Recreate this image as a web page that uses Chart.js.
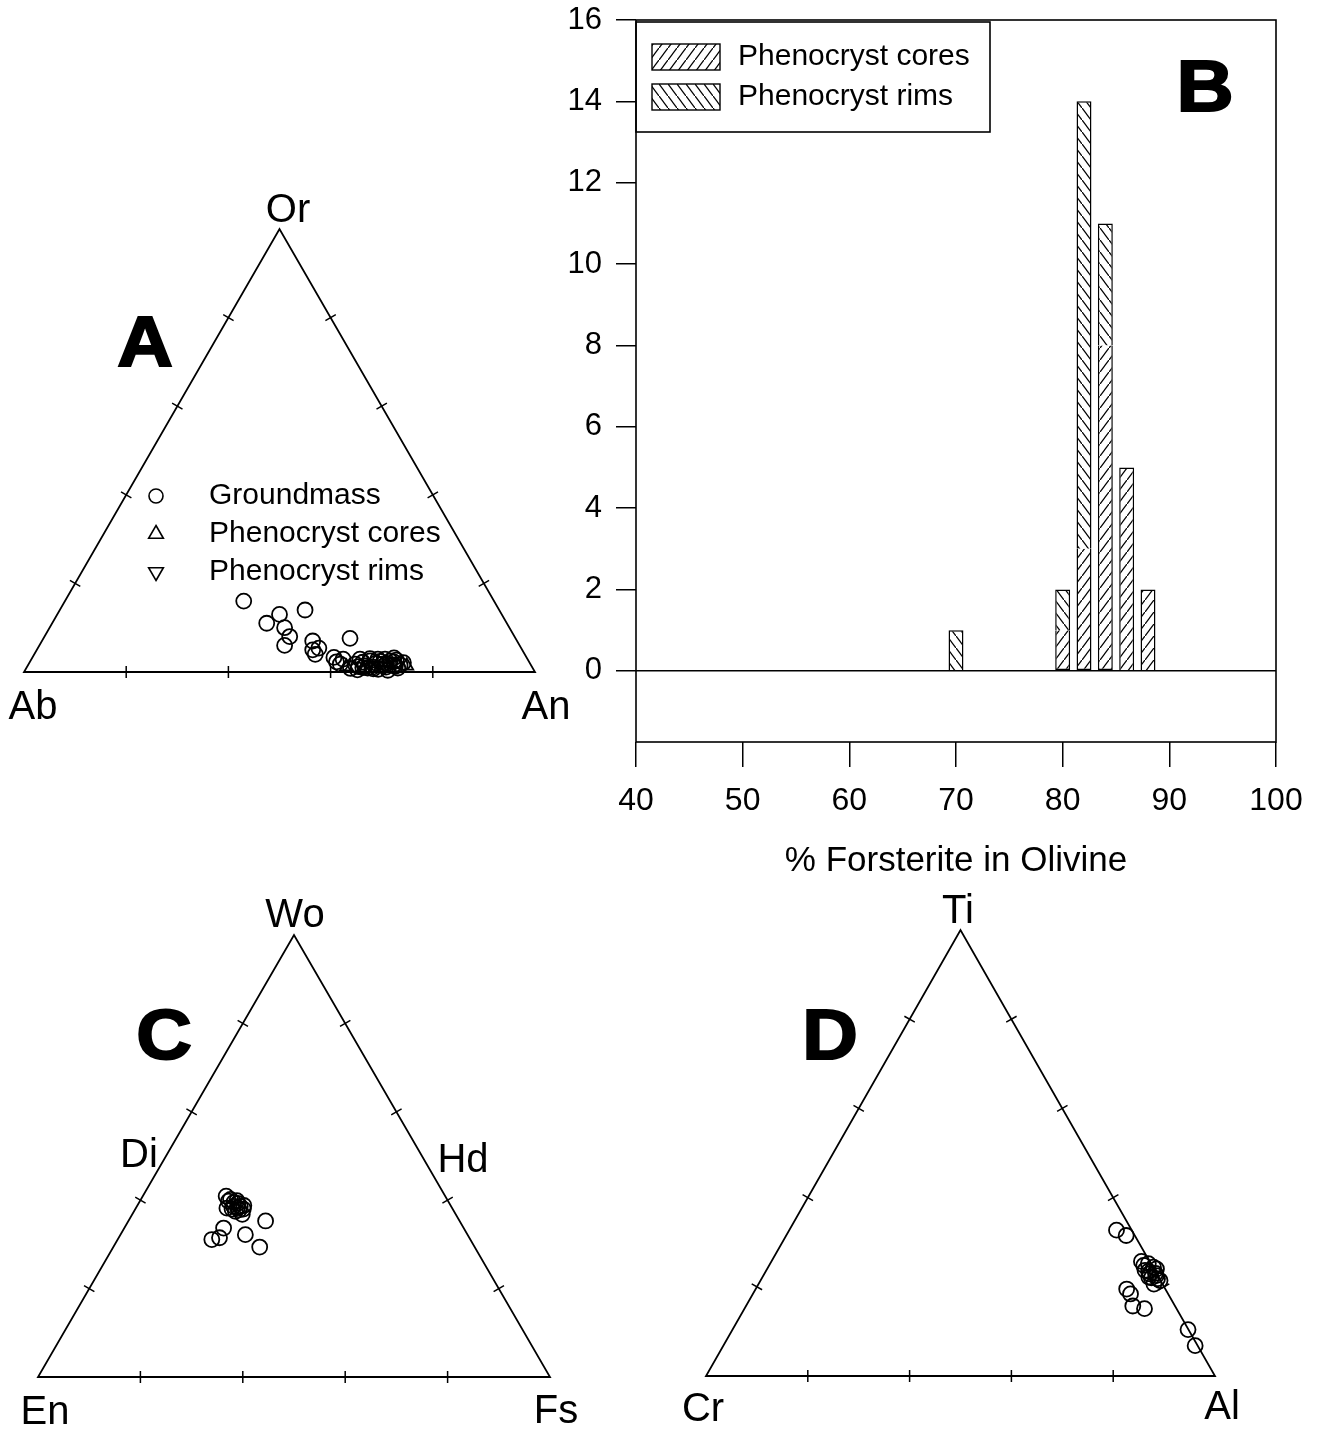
<!DOCTYPE html>
<html>
<head>
<meta charset="utf-8">
<script src="https://cdn.jsdelivr.net/npm/chart.js@4.4.1/dist/chart.umd.min.js"></script>
<style>
  body { margin: 0; background: #fff; width: 1320px; height: 1430px; position: relative; overflow: hidden; }
  canvas { position: absolute; }
</style>
</head>
<body>
<canvas id="panelA" width="590" height="560" style="left:0;top:180px"></canvas>
<canvas id="panelB" width="760" height="882" style="left:560px;top:0"></canvas>
<canvas id="panelC" width="600" height="550" style="left:0;top:880px"></canvas>
<canvas id="panelD" width="600" height="550" style="left:660px;top:880px"></canvas>
<script>
// A - feldspar, mol % (Or = top, An = right, Ab = rest)
const gmOr = [16, 11, 13, 14, 10, 8, 6, 7, 5, 5.4, 4, 7.6, 3.3, 2.3, 2.9, 1.8,
  1.8, 2.9, 1.4, 2.5, 1.1, 2.9, 1.8, 1.1, 2.5, 1.6, 0.9, 2, 0.9, 2.9, 1.6, 0.5, 0.6, 0.4, 3.2, 2.2,
  1.2, 2.4, 0.7, 1.9, 2.7, 1.3, 0.8, 2.1, 1.5, 3.0, 1.0, 2.3];
const gmAn = [35, 42, 43.5, 48, 46, 48, 48, 53, 54, 55, 55, 60, 59, 60, 61, 61,
  63.9, 64.3, 66, 66.5, 67.7, 67.8, 69.2, 70.3, 70.4, 71.6, 72.7, 67.9, 66.8, 69.2, 72.8, 65, 69, 71, 70.8, 65.2,
  64.8, 68.5, 68, 70, 71.5, 72, 63.5, 73.2, 69.8, 66.2, 65.8, 71.2];
const coreOr = [1.4, 0.8, 0.9, 1.2];
const coreAn = [74.2, 66, 71, 62.5];
const rimOr = [1.5, 1.3];
const rimAn = [67.5, 70];

// B - olivine histogram
const foBins = [70, 80, 82, 84, 86, 88];
const foCores = [0, 1, 3, 8, 5, 2];
const foRims = [1, 1, 11, 3, 0, 0];
const foTicks = [40, 50, 60, 70, 80, 90, 100];
const countTicks = [0, 2, 4, 6, 8, 10, 12, 14, 16];

// C - pyroxene (Wo = top, Fs = right, En = rest)
const pxWo = [40.9, 39.8, 38.6, 38.3, 38.6, 36.8, 38, 35.3, 33.7, 32.2, 31.1, 31.5, 29.4, 40.2, 39.3, 37.5, 38,
  39.5, 38.8, 37.8, 39.9, 38.2];
const pxFs = [16.3, 17.3, 18.9, 19.8, 20.2, 21.5, 18.9, 26.8, 19.4, 24.4, 18.4, 19.7, 28.6, 17.5, 19.4, 19.8, 21.1,
  18.5, 20.8, 20.4, 18.9, 17.8];

// D - spinel (Ti = top, Al = right, Cr = rest)
const spTi = [32.7, 31.5, 25.7, 25.2, 24.4, 23.7, 22.9, 22.5, 21.4, 20.6, 19.5, 18.4, 15.7, 15.1, 10.4, 6.8, 24, 23, 22, 23.5, 21.8,
  24.8, 22.2];
const spAl = [64.3, 66.8, 72.7, 74.3, 75.7, 74.4, 75.7, 77.2, 78.5, 77.7, 72.9, 74.2, 76, 78.6, 89.5, 92.7, 76.5, 76.8, 76.5, 75.2, 77.8,
  73.6, 75.9];

const triTicks = [20, 40, 60, 80];

Chart.defaults.font.family = '"Liberation Sans", Arial, sans-serif';
Chart.defaults.color = '#000';
const FONT = '"Liberation Sans", Arial, sans-serif';
const SQ = Math.sqrt(3) / 2;

function tern(top, right) {
  return { x: (right + top / 2) / 100, y: top / 100 * SQ };
}
function pts(topArr, rightArr) {
  return topArr.map((t, i) => tern(t, rightArr[i]));
}

function text(ctx, s, x, y, size, bold, align) {
  ctx.font = (bold ? 'bold ' : '') + size + 'px ' + FONT;
  ctx.textAlign = align || 'center';
  ctx.textBaseline = 'middle';
  ctx.fillStyle = '#000';
  if (bold) {
    // heavy panel letters, a bit wider than plain bold
    ctx.save();
    ctx.translate(x, y);
    ctx.scale(1.1, 1);
    ctx.fillText(s, 0, 0);
    ctx.lineWidth = 2;
    ctx.strokeStyle = '#000';
    ctx.strokeText(s, 0, 0);
    ctx.restore();
  } else {
    ctx.fillText(s, x, y);
  }
}

function marker(ctx, style, x, y, r) {
  ctx.beginPath();
  if (style === 'circle') {
    ctx.arc(x, y, r, 0, Math.PI * 2);
  } else {
    const s = style === 'up' ? 1 : -1;
    ctx.moveTo(x, y - s * r);
    ctx.lineTo(x + r * 0.866, y + s * r * 0.5);
    ctx.lineTo(x - r * 0.866, y + s * r * 0.5);
    ctx.closePath();
  }
  ctx.stroke();
}

// triangle outline, edge ticks, labels and legend
const frame = {
  id: 'frame',
  beforeDatasetsDraw(chart) {
    const { ctx, scales: { x, y } } = chart;
    const c = [[0, 0], [1, 0], [0.5, SQ]].map(p => [x.getPixelForValue(p[0]), y.getPixelForValue(p[1])]);
    ctx.save();
    ctx.strokeStyle = '#000';
    ctx.lineWidth = 1.8;
    ctx.beginPath();
    ctx.moveTo(c[0][0], c[0][1]);
    ctx.lineTo(c[1][0], c[1][1]);
    ctx.lineTo(c[2][0], c[2][1]);
    ctx.closePath();
    ctx.stroke();
    ctx.lineWidth = 1.5;
    ctx.beginPath();
    [[0, 1], [1, 2], [2, 0]].forEach(([a, b]) => {
      const dx = c[b][0] - c[a][0], dy = c[b][1] - c[a][1];
      const len = Math.hypot(dx, dy), nx = -dy / len, ny = dx / len;
      triTicks.forEach(f => {
        const px = c[a][0] + dx * f / 100, py = c[a][1] + dy * f / 100;
        ctx.moveTo(px - nx * 6, py - ny * 6);
        ctx.lineTo(px + nx * 6, py + ny * 6);
      });
    });
    ctx.stroke();
    ctx.restore();
  },
  afterDraw(chart, args, opts) {
    const ctx = chart.ctx;
    ctx.save();
    (opts.labels || []).forEach(l => text(ctx, l[0], l[1], l[2], l[3], l[4]));
    ctx.strokeStyle = '#000';
    ctx.lineWidth = 1.6;
    (opts.legend || []).forEach(l => {
      marker(ctx, l[0], l[2], l[3], l[0] === 'circle' ? 7 : 8.5);
      text(ctx, l[1], l[4], l[3], 30, false, 'left');
    });
    ctx.restore();
  }
};

function symbolSet(data, style, rot) {
  return {
    data, pointStyle: style, rotation: rot || 0,
    pointRadius: 7.5, pointBorderWidth: 1.8,
    pointBorderColor: '#000', pointBackgroundColor: 'rgba(0,0,0,0)',
    clip: false
  };
}

function ternary(id, pad, sets, frameOpts) {
  return new Chart(document.getElementById(id), {
    type: 'scatter',
    data: { datasets: sets },
    options: {
      responsive: false, animation: false, events: [],
      layout: { padding: pad },
      plugins: { legend: { display: false }, tooltip: { enabled: false }, frame: frameOpts },
      scales: {
        x: { display: false, min: 0, max: 1 },
        y: { display: false, min: 0, max: SQ }
      }
    },
    plugins: [frame]
  });
}

ternary('panelA', { left: 24, right: 55, top: 49, bottom: 68 }, [
  symbolSet(pts(gmOr, gmAn), 'circle'),
  symbolSet(pts(coreOr, coreAn), 'triangle'),
  symbolSet(pts(rimOr, rimAn), 'triangle', 180)
], {
  labels: [['Or', 288, 31, 40], ['Ab', 33, 528, 40], ['An', 546, 528, 40], ['A', 145, 167, 70, true]],
  legend: [['circle', 'Groundmass', 156, 316, 209], ['up', 'Phenocryst cores', 156, 354, 209], ['down', 'Phenocryst rims', 156, 392, 209]]
});

ternary('panelC', { left: 38, right: 50, top: 55, bottom: 53 }, [
  symbolSet(pts(pxWo, pxFs), 'circle')
], {
  labels: [['Wo', 295, 36, 40], ['Di', 139, 276, 40], ['Hd', 463, 281, 40], ['En', 45, 533, 40], ['Fs', 556, 532, 40], ['C', 164, 160, 70, true]]
});

ternary('panelD', { left: 46, right: 45, top: 50, bottom: 54 }, [
  symbolSet(pts(spTi, spAl), 'circle')
], {
  labels: [['Ti', 298, 32, 40], ['Cr', 43, 530, 40], ['Al', 562, 528, 40], ['D', 170, 160, 70, true]]
});

// hatch patterns for the histogram
function hatch(dir) {
  const w = 9, h = 12;
  const c = document.createElement('canvas');
  c.width = w; c.height = h;
  const g = c.getContext('2d');
  g.fillStyle = '#fff';
  g.fillRect(0, 0, w, h);
  g.strokeStyle = '#000';
  g.lineWidth = 1.3;
  g.beginPath();
  if (dir === '/') {
    g.moveTo(-w, 2 * h); g.lineTo(2 * w, -h);
  } else {
    g.moveTo(-w, -h); g.lineTo(2 * w, 2 * h);
  }
  g.stroke();
  return g.createPattern(c, 'repeat');
}
const coreFill = hatch('/');
const rimFill = hatch('\\');

const boxB = {
  id: 'boxB',
  afterDraw(chart) {
    const { ctx, chartArea: a } = chart;
    ctx.save();
    ctx.strokeStyle = '#000';
    ctx.lineWidth = 1.6;
    ctx.strokeRect(a.left, a.top, a.right - a.left, a.bottom - a.top);
    // legend
    ctx.strokeRect(a.left, a.top + 2, 354, 110);
    chart.data.datasets.forEach((d, i) => {
      const y = a.top + 24 + i * 40;
      ctx.fillStyle = d.backgroundColor;
      ctx.fillRect(a.left + 16, y, 68, 26);
      ctx.lineWidth = 1.4;
      ctx.strokeRect(a.left + 16, y, 68, 26);
      text(ctx, d.label, a.left + 102, y + 13, 30, false, 'left');
    });
    text(ctx, 'B', 645, 91, 72, true);
    ctx.restore();
  }
};

new Chart(document.getElementById('panelB'), {
  type: 'bar',
  data: {
    datasets: [
      {
        label: 'Phenocryst cores',
        data: foBins.map((x, i) => ({ x, y: foCores[i] })),
        backgroundColor: coreFill, borderColor: '#000', borderWidth: 1.5,
        borderSkipped: c => foRims[c.dataIndex] > 0 ? 'end' : 'start',
        barPercentage: 0.7, categoryPercentage: 1
      },
      {
        label: 'Phenocryst rims',
        data: foBins.map((x, i) => ({ x, y: foRims[i] })),
        backgroundColor: rimFill, borderColor: '#000', borderWidth: 1.5,
        borderSkipped: 'start',
        barPercentage: 0.7, categoryPercentage: 1
      }
    ]
  },
  options: {
    responsive: false, animation: false, events: [],
    layout: { padding: { top: 20, right: 44, left: 0, bottom: 0 } },
    plugins: { legend: { display: false }, tooltip: { enabled: false } },
    scales: {
      x: {
        type: 'linear', min: 40, max: 100, offset: false, stacked: true,
        afterBuildTicks: s => { s.ticks = foTicks.map(v => ({ value: v })); },
        afterFit: s => { s.height = 140; s.paddingLeft = 0; s.paddingRight = 0; },
        ticks: { font: { size: 32 }, padding: 15, maxRotation: 0, autoSkip: false },
        grid: { drawOnChartArea: false, tickLength: 25, color: '#000', lineWidth: 1.5, offset: false },
        border: { display: false },
        title: { display: true, text: '% Forsterite in Olivine', font: { size: 35 }, padding: 0 }
      },
      y: {
        min: -1.75, max: 16, stacked: true,
        afterBuildTicks: s => { s.ticks = countTicks.map(v => ({ value: v })); },
        afterFit: s => { s.width = 76; s.paddingTop = 0; s.paddingBottom = 0; },
        ticks: { font: { size: 31 }, padding: 14 },
        grid: {
          color: c => c.tick && c.tick.value === 0 ? '#000' : 'rgba(0,0,0,0)',
          tickColor: '#000', tickLength: 20, lineWidth: 1.5
        },
        border: { display: false }
      }
    }
  },
  plugins: [boxB]
});
</script>
</body>
</html>
